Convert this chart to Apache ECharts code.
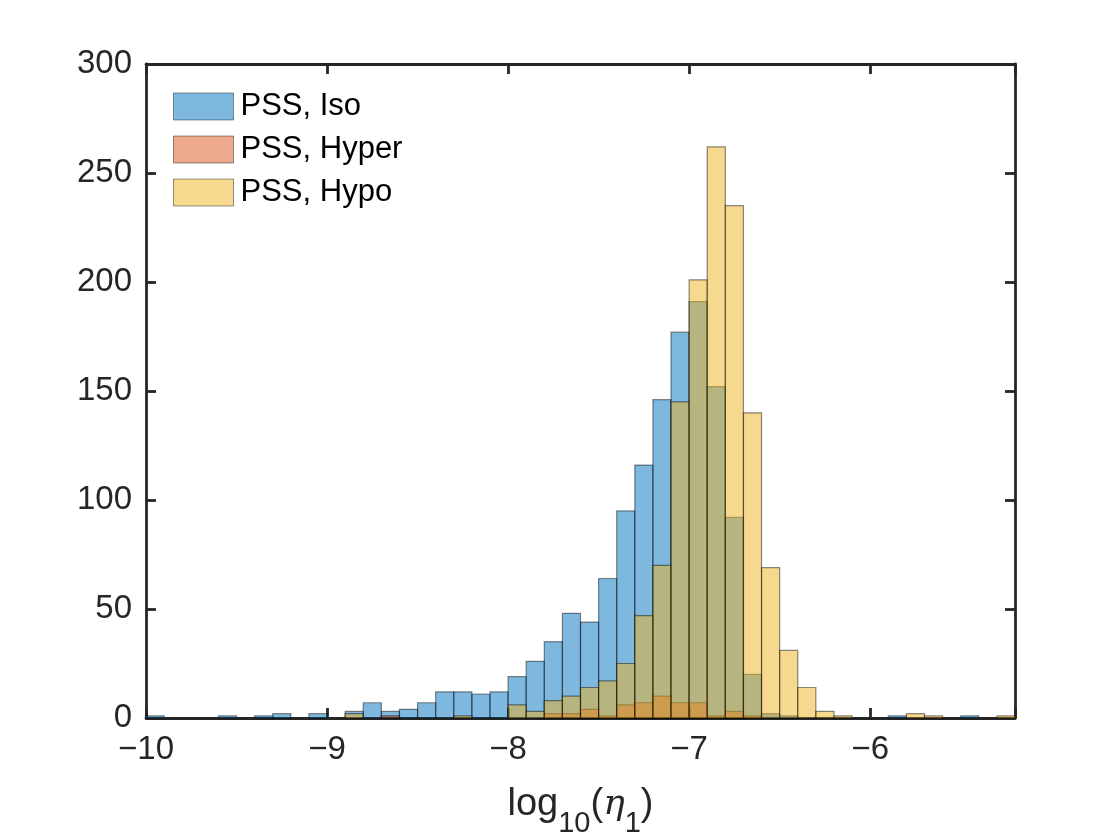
<!DOCTYPE html>
<html lang="en">
<head>
    <meta charset="utf-8">
    <title>PSS histogram</title>
    <script src="https://cdn.jsdelivr.net/npm/echarts@6/dist/echarts.min.js"></script>
    <style>
        html, body { margin: 0; padding: 0; background: #fff; }
        #main { width: 1120px; height: 840px; }
    </style>
</head>
<body>
<div id="main"></div>
<script type="text/javascript">
    // bins: 0.1 wide, first one starts at -10
    var binStart = -10;
    var binWidth = 0.1;

    var seriesNames = ['PSS, Iso', 'PSS, Hyper', 'PSS, Hypo'];

    // counts per bin (48 bins, -10 .. -5.2)
    var isoCounts = [1, 0, 0, 0, 1, 0, 1, 2, 0, 2,
        0, 3, 7, 3, 4, 7, 12, 12, 11, 12,
        19, 26, 35, 48, 44, 64, 95, 116, 146, 177,
        191, 152, 92, 20, 2, 1, 0, 0, 0, 0,
        0, 1, 0, 0, 0, 1, 0, 0];
    var hyperCounts = [0, 0, 0, 0, 0, 0, 0, 0, 0, 0,
        0, 0, 0, 1, 0, 0, 0, 0, 0, 0,
        0, 0, 2, 2, 4, 1, 6, 7, 10, 7,
        7, 1, 3, 1, 0, 0, 0, 0, 0, 0,
        0, 0, 0, 0, 0, 0, 0, 0];
    var hypoCounts = [0, 0, 0, 0, 0, 0, 0, 0, 0, 0,
        0, 2, 0, 0, 0, 0, 0, 1, 0, 0,
        6, 3, 8, 10, 14, 17, 25, 47, 70, 145,
        201, 262, 235, 140, 69, 31, 14, 3, 1, 0,
        0, 0, 2, 1, 0, 0, 0, 1];

    var xTicks = [-10, -9, -8, -7, -6];
    var yTicks = [0, 50, 100, 150, 200, 250, 300];

    // MATLAB default colours at FaceAlpha 0.5
    var colors = ['rgba(0,114,189,0.5)', 'rgba(217,83,25,0.5)', 'rgba(237,177,32,0.5)'];
    var axisColor = '#262626';
    var font = "'Liberation Sans', Arial, Helvetica, sans-serif";

    function toBins(counts) {
        var out = [];
        for (var i = 0; i < counts.length; i++) {
            var x0 = +(binStart + i * binWidth).toFixed(2);
            out.push([x0, +(x0 + binWidth).toFixed(2), counts[i]]);
        }
        return out;
    }

    function renderBar(params, api) {
        var h = api.value(2);
        if (!h) return;
        var p0 = api.coord([api.value(0), 0]);
        var p1 = api.coord([api.value(1), h]);
        return {
            type: 'rect',
            shape: { x: p0[0], y: p1[1], width: p1[0] - p0[0], height: p0[1] - p1[1] },
            style: {
                fill: colors[params.seriesIndex],
                stroke: 'rgba(0,0,0,0.45)',
                lineWidth: 1.2
            }
        };
    }

    var allCounts = [isoCounts, hyperCounts, hypoCounts];
    var series = [];
    for (var s = 0; s < allCounts.length; s++) {
        series.push({
            name: seriesNames[s],
            type: 'custom',
            renderItem: renderBar,
            itemStyle: { color: colors[s] },
            encode: { x: [0, 1], y: 2 },
            data: toBins(allCounts[s])
        });
    }

    // matlab writes a real minus sign
    var tickLabel = function (v) {
        return xTicks.indexOf(v) >= 0 ? String(v).replace('-', '\u2212') : '';
    };

    var baseAxis = {
        axisLine: { show: true, onZero: false, lineStyle: { color: axisColor, width: 2.8 } },
        axisTick: { show: true, inside: true, length: 10, lineStyle: { color: axisColor, width: 2.8 } },
        splitLine: { show: false }
    };

    var myChart = echarts.init(document.getElementById('main'), null, { renderer: 'canvas' });

    var option = {
        backgroundColor: '#ffffff',
        animation: false,
        textStyle: { fontFamily: font },
        grid: { left: 146, right: 105, top: 64, bottom: 122, containLabel: false, outerBoundsMode: 'none' },
        legend: {
            orient: 'vertical',
            left: 173,
            top: 91,
            padding: 0,
            itemWidth: 60,
            itemHeight: 27,
            itemGap: 12,
            icon: 'rect',
            selectedMode: false,
            textStyle: { fontSize: 31, color: '#000', fontFamily: font, padding: [0, 0, 0, 2] },
            data: seriesNames.map(function (n, i) {
                return { name: n, itemStyle: { color: colors[i], borderColor: 'rgba(0,0,0,0.4)', borderWidth: 1 } };
            })
        },
        xAxis: [
            Object.assign({}, baseAxis, {
                type: 'value',
                position: 'bottom',
                min: -10,
                max: -5.2,
                interval: 1,
                axisLabel: { color: axisColor, fontSize: 33, margin: 15, fontFamily: font, formatter: tickLabel },
                name: 'log{sub|10}({eta|η}{sub|1})',
                nameLocation: 'middle',
                nameGap: 42,
                nameTextStyle: {
                    color: axisColor,
                    fontSize: 38,
                    fontFamily: font,
                    lineHeight: 68,
                    rich: {
                        sub: { fontSize: 29, fontFamily: font, color: axisColor, verticalAlign: 'bottom', lineHeight: 30 },
                        eta: { fontSize: 36, fontFamily: "'DejaVu Serif', serif", fontStyle: 'italic', color: axisColor, lineHeight: 68 }
                    }
                }
            }),
            Object.assign({}, baseAxis, {
                type: 'value',
                position: 'top',
                min: -10,
                max: -5.2,
                interval: 1,
                axisLabel: { show: false }
            })
        ],
        yAxis: [
            Object.assign({}, baseAxis, {
                type: 'value',
                position: 'left',
                min: yTicks[0],
                max: yTicks[yTicks.length - 1],
                interval: 50,
                axisLabel: { color: axisColor, fontSize: 33, margin: 14, fontFamily: font }
            }),
            Object.assign({}, baseAxis, {
                type: 'value',
                position: 'right',
                min: yTicks[0],
                max: yTicks[yTicks.length - 1],
                interval: 50,
                axisLabel: { show: false }
            })
        ],
        series: series
    };

    myChart.setOption(option);
</script>
</body>
</html>
